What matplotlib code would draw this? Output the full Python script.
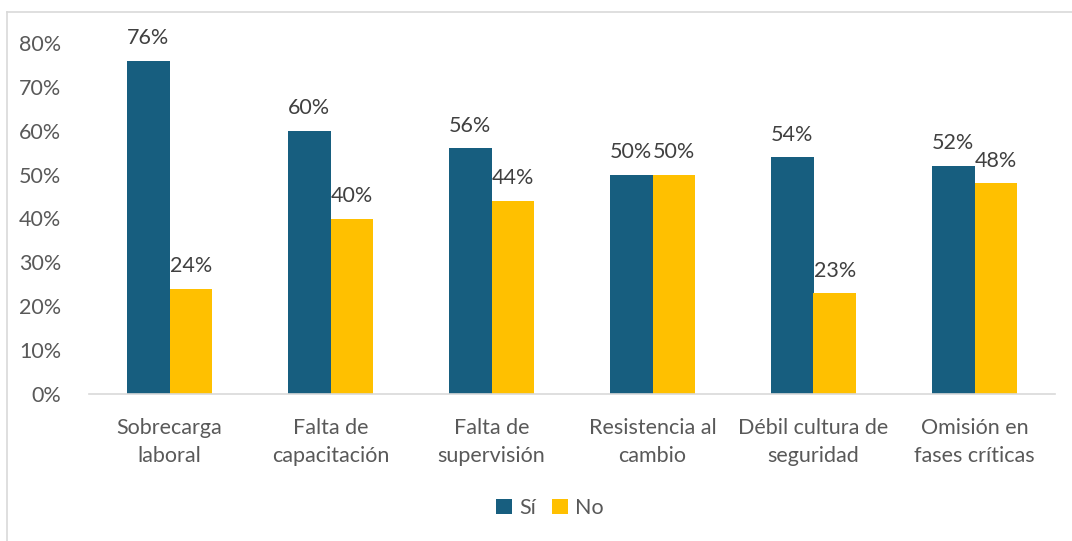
import matplotlib
matplotlib.use("Agg")
import matplotlib.pyplot as plt
import numpy as np
from matplotlib.lines import Line2D

categories = ["Sobrecarga\nlaboral", "Falta de\ncapacitación", "Falta de\nsupervisión",
              "Resistencia al\ncambio", "Débil cultura de\nseguridad", "Omisión en\nfases críticas"]
si_values = [76, 60, 56, 50, 54, 52]
no_values = [24, 40, 44, 50, 23, 48]
yticks = [0, 10, 20, 30, 40, 50, 60, 70, 80]

plt.rcParams['font.family'] = ['Lato', 'DejaVu Sans']
gray = '#595959'
c_si = '#175E7F'
c_no = '#FFC000'
fs = 15.5

fig = plt.figure(figsize=(10.72, 5.41), dpi=100)
ax = fig.add_axes([89/1072, 1-394/541, (1055-89)/1072, (394-43)/541])

x = np.arange(len(categories))
w = 0.264
b1 = ax.bar(x - w/2, si_values, w, color=c_si, label='Sí')
b2 = ax.bar(x + w/2, no_values, w, color=c_no, label='No')
for bars, vals in ((b1, si_values), (b2, no_values)):
    for r, v in zip(bars, vals):
        ax.annotate(f"{v}%", (r.get_x() + r.get_width()/2, v), xytext=(0, 9),
                    textcoords='offset points', ha='center', va='bottom',
                    fontsize=fs, color='#404040')

ax.set_xlim(-0.5, len(categories) - 0.5)
ax.set_ylim(0, 80)
ax.set_yticks(yticks)
ax.set_yticklabels([f"{t}%" for t in yticks])
ax.set_xticks(x)
ax.set_xticklabels(categories, linespacing=1.5)
ax.tick_params(axis='y', length=0, pad=20, labelsize=fs, labelcolor=gray)
ax.tick_params(axis='x', length=0, pad=17, labelsize=fs, labelcolor=gray)
for s in ('top', 'right', 'left'):
    ax.spines[s].set_visible(False)
ax.spines['bottom'].set_color('#D9D9D9')
ax.spines['bottom'].set_linewidth(1.2)

leg = fig.legend(handles=[b1, b2], labels=['Sí', 'No'], loc='center',
                 bbox_to_anchor=(550/1072, 1-508/541), ncol=2, frameon=False,
                 fontsize=fs, handlelength=0.75, handleheight=0.75, handletextpad=0.35,
                 columnspacing=0.7)
for t in leg.get_texts():
    t.set_color(gray)

fig.add_artist(Line2D([7/1072, 7/1072], [0, 1-12/541], transform=fig.transFigure,
                      color='#D9D9D9', lw=1.2))
fig.add_artist(Line2D([7/1072, 1], [1-12/541, 1-12/541], transform=fig.transFigure,
                      color='#D9D9D9', lw=1.2))

fig.savefig("out.png", dpi=100)
